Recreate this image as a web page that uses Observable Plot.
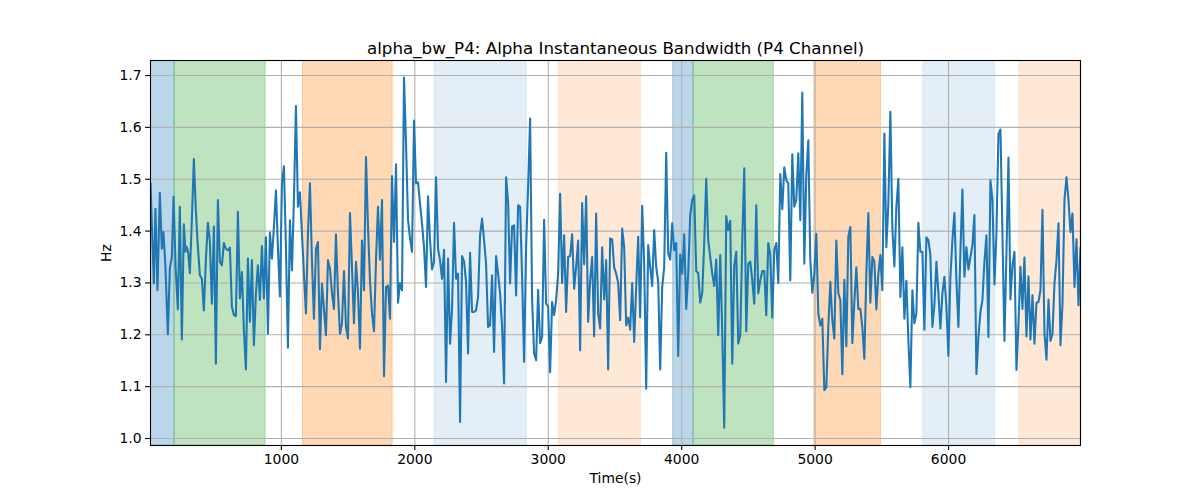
<!DOCTYPE html>
<html>
<head>
<meta charset="utf-8">
<script src="https://cdn.jsdelivr.net/npm/d3@7"></script>
<script src="https://cdn.jsdelivr.net/npm/@observablehq/plot@0.6"></script>
<style>
  html, body { margin: 0; padding: 0; background: white; }
  #chart { width: 1200px; height: 500px; }
</style>
</head>
<body>
<div id="chart"></div>
<script>
const titleText = "alpha_bw_P4: Alpha Instantaneous Bandwidth (P4 Channel)";
const xLabel = "Time(s)";
const yLabel = "Hz";
const xTicks = [1000, 2000, 3000, 4000, 5000, 6000];
const yTicks = [1.0, 1.1, 1.2, 1.3, 1.4, 1.5, 1.6, 1.7];
const xDomain = [19, 6989];
const yDomain = [0.9865, 1.729];

const times = [19,44,56,71,89,104,116,131,149,164,179,192,207,224,239,254,269,281,289,301,314,329,344,359,371,389,404,419,434,449,464,479,494,509,524,539,554,569,584,599,614,629,644,659,674,689,704,719,734,749,764,779,794,809,824,839,854,869,884,899,914,929,944,959,974,989,1004,1019,1034,1049,1064,1079,1094,1109,1124,1139,1154,1169,1184,1199,1214,1229,1244,1259,1274,1289,1304,1319,1334,1349,1364,1379,1394,1409,1424,1439,1454,1469,1484,1499,1514,1529,1544,1559,1574,1589,1604,1619,1634,1649,1664,1679,1694,1709,1724,1739,1754,1769,1784,1799,1814,1829,1844,1859,1874,1889,1904,1919,1934,1949,1964,1979,1994,2009,2024,2039,2054,2069,2084,2099,2114,2129,2144,2159,2174,2189,2204,2219,2234,2249,2264,2279,2294,2309,2324,2339,2354,2369,2384,2399,2414,2429,2444,2459,2474,2489,2504,2519,2534,2549,2564,2579,2594,2609,2624,2639,2654,2669,2684,2699,2714,2729,2744,2759,2774,2789,2804,2819,2834,2849,2864,2879,2894,2909,2924,2939,2954,2969,2984,2999,3014,3029,3044,3059,3074,3089,3104,3119,3134,3149,3164,3179,3194,3209,3224,3239,3254,3269,3284,3299,3314,3329,3344,3359,3374,3389,3404,3419,3434,3449,3464,3479,3494,3509,3524,3539,3554,3569,3584,3599,3614,3629,3644,3659,3674,3689,3704,3719,3734,3749,3764,3779,3794,3809,3824,3839,3854,3869,3884,3899,3914,3929,3944,3959,3974,3989,4004,4019,4034,4049,4064,4079,4094,4109,4124,4139,4154,4169,4184,4199,4214,4229,4244,4259,4274,4289,4304,4319,4334,4349,4364,4379,4394,4409,4424,4439,4454,4469,4484,4499,4514,4529,4544,4559,4574,4589,4604,4619,4634,4649,4664,4679,4694,4709,4724,4739,4754,4769,4784,4799,4814,4829,4844,4859,4874,4889,4904,4919,4934,4949,4964,4979,4994,5009,5024,5039,5054,5069,5084,5099,5114,5129,5144,5159,5174,5189,5204,5219,5234,5249,5264,5279,5294,5309,5324,5339,5354,5369,5384,5399,5414,5429,5444,5459,5474,5489,5504,5519,5534,5549,5564,5579,5594,5609,5624,5639,5654,5669,5684,5699,5714,5729,5744,5759,5774,5789,5804,5819,5834,5849,5864,5879,5894,5909,5924,5939,5954,5969,5984,5999,6014,6029,6044,6059,6074,6089,6104,6119,6134,6149,6164,6179,6194,6209,6224,6239,6254,6269,6284,6299,6314,6329,6344,6359,6374,6389,6404,6419,6434,6449,6464,6479,6494,6509,6524,6539,6554,6569,6584,6599,6614,6629,6644,6659,6674,6689,6704,6719,6734,6749,6764,6779,6794,6809,6824,6839,6854,6869,6884,6899,6914,6929,6944,6959,6974,6989];

const hz = [1.492,1.299,1.443,1.286,1.474,1.366,1.398,1.331,1.201,1.328,1.350,1.466,1.331,1.249,1.447,1.191,1.413,1.360,1.370,1.360,1.319,1.421,1.539,1.440,1.382,1.315,1.308,1.247,1.344,1.416,1.379,1.260,1.409,1.144,1.460,1.341,1.334,1.377,1.366,1.363,1.368,1.254,1.238,1.236,1.437,1.270,1.321,1.209,1.133,1.347,1.225,1.344,1.180,1.280,1.334,1.267,1.371,1.270,1.388,1.202,1.397,1.347,1.408,1.478,1.369,1.274,1.492,1.525,1.369,1.175,1.421,1.324,1.460,1.641,1.447,1.475,1.395,1.318,1.241,1.395,1.492,1.344,1.231,1.366,1.379,1.172,1.299,1.250,1.199,1.344,1.328,1.280,1.250,1.394,1.280,1.202,1.222,1.323,1.215,1.193,1.435,1.331,1.222,1.341,1.280,1.173,1.382,1.286,1.543,1.408,1.305,1.241,1.207,1.344,1.447,1.345,1.460,1.120,1.292,1.295,1.231,1.506,1.379,1.529,1.262,1.300,1.286,1.696,1.569,1.421,1.386,1.360,1.613,1.492,1.494,1.453,1.414,1.369,1.292,1.467,1.382,1.326,1.341,1.504,1.366,1.344,1.308,1.364,1.109,1.347,1.183,1.250,1.416,1.308,1.318,1.032,1.352,1.341,1.302,1.164,1.358,1.244,1.244,1.247,1.273,1.392,1.424,1.382,1.337,1.215,1.218,1.315,1.167,1.352,1.318,1.280,1.215,1.106,1.504,1.456,1.299,1.409,1.411,1.276,1.450,1.447,1.312,1.148,1.369,1.485,1.617,1.267,1.164,1.151,1.287,1.184,1.196,1.422,1.260,1.255,1.128,1.263,1.238,1.267,1.318,1.472,1.300,1.392,1.244,1.350,1.352,1.394,1.289,1.331,1.382,1.170,1.454,1.336,1.467,1.225,1.305,1.350,1.197,1.434,1.241,1.212,1.369,1.268,1.344,1.133,1.386,1.384,1.330,1.318,1.300,1.228,1.405,1.369,1.218,1.233,1.210,1.300,1.186,1.292,1.389,1.234,1.449,1.337,1.096,1.373,1.331,1.294,1.402,1.331,1.302,1.133,1.292,1.331,1.551,1.357,1.345,1.415,1.363,1.377,1.159,1.355,1.318,1.394,1.250,1.318,1.431,1.460,1.469,1.323,1.319,1.262,1.280,1.377,1.501,1.382,1.350,1.318,1.294,1.345,1.199,1.354,1.206,1.021,1.429,1.402,1.420,1.144,1.334,1.360,1.183,1.199,1.377,1.521,1.207,1.337,1.341,1.305,1.260,1.450,1.280,1.305,1.323,1.323,1.238,1.377,1.354,1.233,1.363,1.377,1.300,1.510,1.442,1.523,1.498,1.492,1.305,1.548,1.447,1.460,1.550,1.421,1.667,1.337,1.508,1.575,1.344,1.281,1.318,1.395,1.241,1.218,1.231,1.093,1.099,1.215,1.302,1.228,1.193,1.382,1.280,1.267,1.124,1.306,1.178,1.389,1.408,1.184,1.263,1.330,1.250,1.250,1.215,1.154,1.318,1.435,1.262,1.350,1.341,1.249,1.318,1.354,1.286,1.588,1.369,1.453,1.630,1.405,1.332,1.447,1.501,1.273,1.369,1.231,1.304,1.189,1.099,1.286,1.222,1.241,1.416,1.360,1.360,1.210,1.388,1.382,1.354,1.215,1.257,1.341,1.280,1.212,1.280,1.312,1.254,1.159,1.312,1.382,1.435,1.305,1.215,1.360,1.480,1.312,1.369,1.326,1.350,1.373,1.431,1.124,1.196,1.244,1.267,1.341,1.392,1.196,1.498,1.460,1.297,1.395,1.587,1.596,1.395,1.188,1.357,1.542,1.268,1.334,1.360,1.132,1.222,1.331,1.250,1.349,1.197,1.313,1.191,1.276,1.183,1.262,1.263,1.286,1.441,1.202,1.152,1.268,1.188,1.202,1.299,1.344,1.415,1.180,1.260,1.460,1.504,1.460,1.398,1.434,1.292,1.384,1.257,1.368];

const spanStart = [19, 199, 1161, 2151, 3081, 3936, 4089, 4994, 5811, 6531];
const spanEnd   = [199, 882, 1834, 2839, 3694, 4089, 4691, 5494, 6349, 6989];
const spanKind  = ["blue", "green", "orange", "lightblue", "lightorange", "blue", "green", "orange", "lightblue", "lightorange"];

const kindColor = {blue: "#1f77b4", green: "#2ca02c", orange: "#ff7f0e", lightblue: "#1f77b4", lightorange: "#ff7f0e"};
const kindOpacity = {blue: 0.3, green: 0.3, orange: 0.3, lightblue: 0.12, lightorange: 0.17};

const series = times.map((t, i) => ({t, v: hz[i]}));
const spans = spanStart.map((s, i) => ({s, e: spanEnd[i], k: spanKind[i]}));

const font = "DejaVu Sans, sans-serif";

const chart = Plot.plot({
  width: 1200,
  height: 500,
  marginLeft: 150,
  marginRight: 120,
  marginTop: 60,
  marginBottom: 55,
  style: {fontFamily: font, color: "black", background: "white", overflow: "visible"},
  x: {domain: xDomain, label: null},
  y: {domain: yDomain, label: null},
  marks: [
    Plot.rect(spans, {
      x1: "s", x2: "e", y1: yDomain[0], y2: yDomain[1],
      fill: d => kindColor[d.k], fillOpacity: d => kindOpacity[d.k],
      stroke: d => kindColor[d.k], strokeOpacity: d => kindOpacity[d.k], strokeWidth: 1,
      clip: true
    }),
    Plot.gridX(xTicks, {stroke: "#b0b0b0", strokeOpacity: 1, strokeWidth: 1.1}),
    Plot.gridY(yTicks, {stroke: "#b0b0b0", strokeOpacity: 1, strokeWidth: 1.1}),
    Plot.line(series, {x: "t", y: "v", stroke: "#1f77b4", strokeWidth: 2.08, clip: true}),
    Plot.frame({stroke: "black", strokeWidth: 1.1}),
    Plot.axisX(xTicks, {tickSize: 4.9, tickPadding: 4, fontSize: 13.9, stroke: "black", fill: "black", strokeWidth: 1.1, tickFormat: d3.format("d"), label: null}),
    Plot.axisY(yTicks, {tickSize: 4.9, tickPadding: 4, fontSize: 13.9, stroke: "black", fill: "black", strokeWidth: 1.1, tickFormat: d3.format(".1f"), label: null}),
    Plot.text([titleText], {frameAnchor: "top", dy: -7, lineAnchor: "bottom", fontSize: 16.7, fill: "black"}),
    Plot.text([xLabel], {frameAnchor: "bottom", dy: 28, lineAnchor: "top", fontSize: 13.9, fill: "black"}),
    Plot.text([yLabel], {frameAnchor: "left", dx: -44, rotate: -90, textAnchor: "middle", fontSize: 13.9, fill: "black"})
  ]
});
document.getElementById("chart").appendChild(chart);
</script>
</body>
</html>
